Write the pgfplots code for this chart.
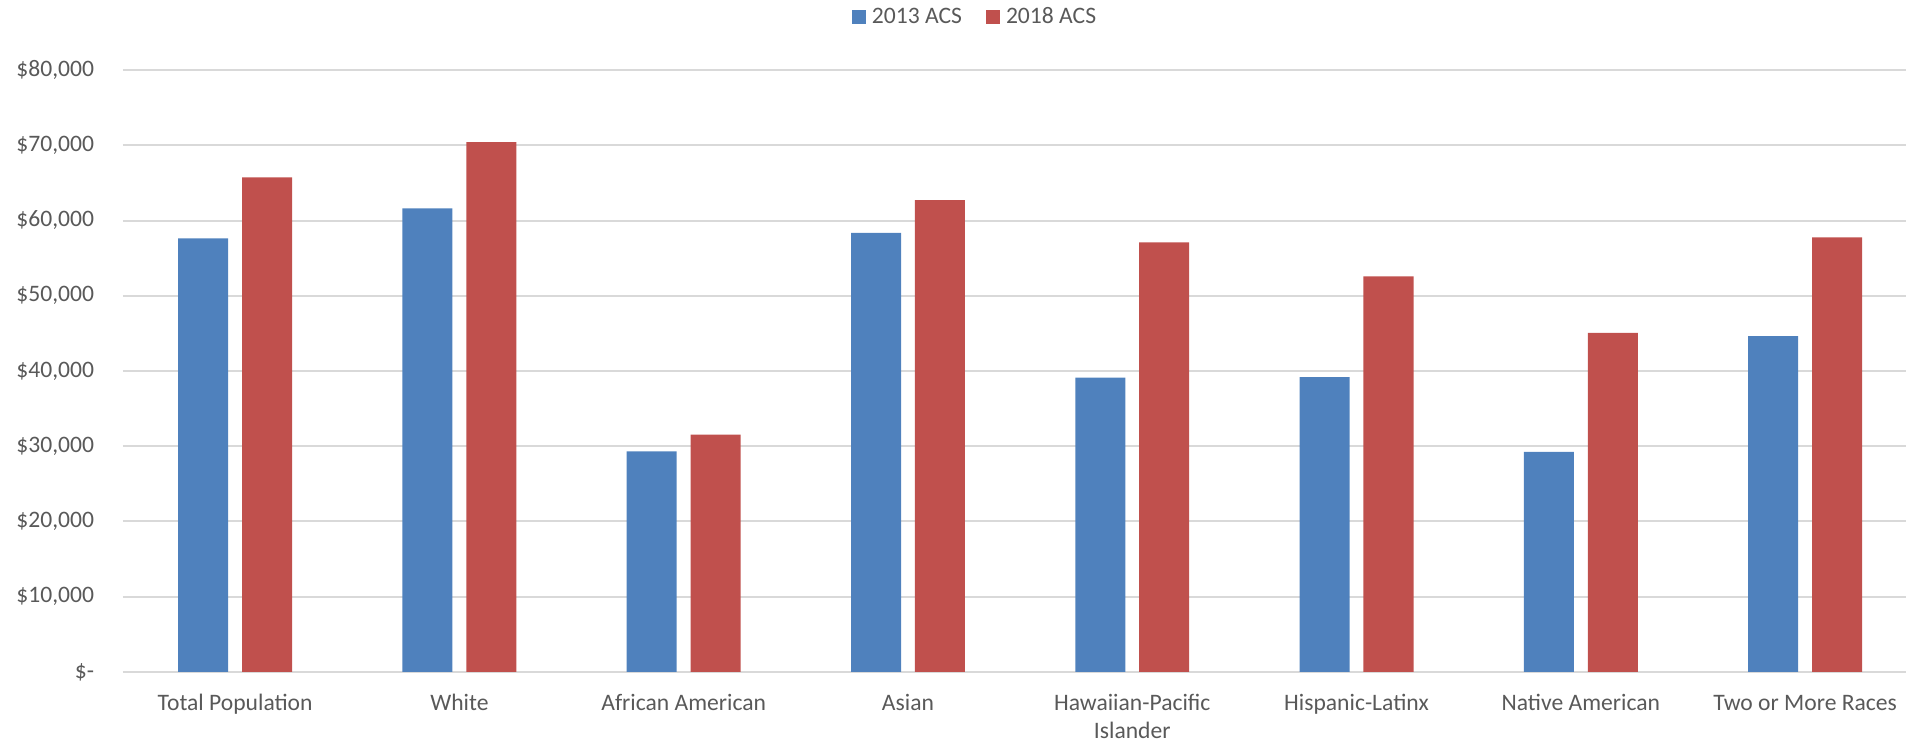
\documentclass[border=0pt]{standalone}
\usepackage{fontspec}
\setmainfont{Carlito}
\usepackage{pgfplots}
\pgfplotsset{compat=1.18}
\usepackage{pgfplotstable}

\definecolor{bblue}{HTML}{4F81BD}
\definecolor{bred}{HTML}{C0504D}
\definecolor{gridgray}{HTML}{D9D9D9}
\definecolor{txtgray}{HTML}{595959}

\pgfplotstableread{
idx y2013 y2018
0 57615 65727
1 61605 70426
2 29335 31550
3 58369 62713
4 39131 57083
5 39175 52562
6 29246 45071
7 44628 57748
}\incometable

\begin{document}
\begin{tikzpicture}[font=\fontsize{11.8}{14}\selectfont, text=txtgray]
\begin{axis}[
  scale only axis,
  width=891.5pt, height=301pt,
  ybar, bar width=0.223,
  xmin=-0.5, xmax=7.45,
  ymin=0, ymax=80000,
  axis line style={draw=none},
  major tick length=0pt,
  ymajorgrids,
  major grid style={draw=gridgray, line width=1pt},
  xtick={0,...,7},
  xticklabels={Total Population, White, African American, Asian,
    {\begin{tabular}[t]{@{}c@{}}Hawaiian-Pacific\\Islander\end{tabular}},
    Hispanic-Latinx, Native American, Two or More Races},
  xticklabel style={anchor=base, yshift=-19.3pt, inner sep=0pt},
  ytick={0,10000,...,80000},
  yticklabels={{\$-\hspace{5pt}},{\$10,000},{\$20,000},{\$30,000},{\$40,000},
    {\$50,000},{\$60,000},{\$70,000},{\$80,000}},
  yticklabel style={anchor=east, inner sep=0pt, xshift=-14.25pt},
  scaled y ticks=false,
  legend columns=2,
  legend style={draw=none, fill=none, inner sep=0pt, outer sep=0pt,
    at={(0.4773,1)}, anchor=center, yshift=26.5pt,
    nodes={inner sep=0pt, text=txtgray},
    /tikz/every odd column/.append style={column sep=3pt},
    /tikz/every even column/.append style={column sep=12pt}},
  legend image code/.code={\fill[#1] (0pt,-3.5pt) rectangle (7pt,3.5pt);},
]
\addplot[fill=bblue, draw=none, bar shift=-0.1425] table[x=idx, y=y2013] {\incometable};
\addplot[fill=bred, draw=none, bar shift=0.1425] table[x=idx, y=y2018] {\incometable};
\legend{2013 ACS, 2018 ACS}
\end{axis}
\pgfresetboundingbox
\path (-61.5pt,-35pt) rectangle (891.5pt,336pt);
\end{tikzpicture}
\end{document}
